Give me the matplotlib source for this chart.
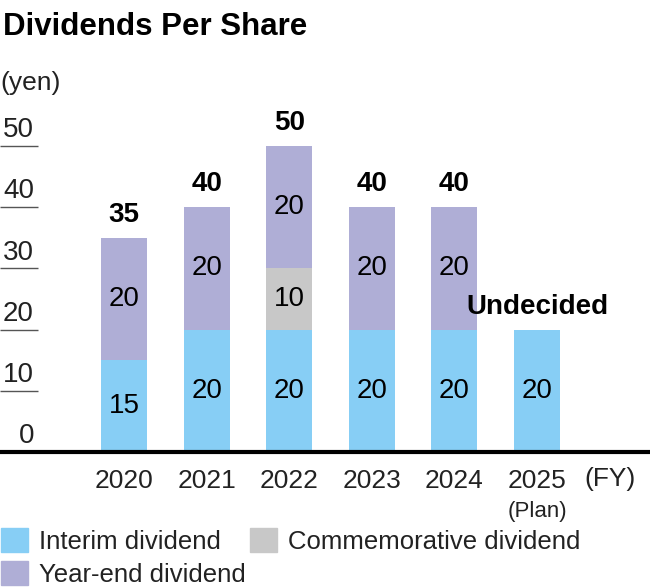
import numpy as np
import matplotlib
matplotlib.use("Agg")
import matplotlib.pyplot as plt
from matplotlib.patches import Patch

plt.rcParams['font.family'] = ['Liberation Sans', 'DejaVu Sans']

years = ["2020", "2021", "2022", "2023", "2024", "2025"]
interim = [15, 20, 20, 20, 20, 20]
commemorative = [0, 0, 10, 0, 0, 0]
year_end = [20, 20, 20, 20, 20, 0]
totals = ["35", "40", "50", "40", "40", "Undecided"]
yticks = [0, 10, 20, 30, 40, 50]

c_interim = "#87cef5"
c_comm = "#c8c8c8"
c_year = "#afaed6"

W, H = 650, 588
fig = plt.figure(figsize=(W / 100, H / 100), dpi=100)
# axes spans full width, y: 0 at 452px, 50 at 146px (from top)
ax = fig.add_axes([0, (H - 452) / H, 1, (452 - 146) / H])

x = np.arange(len(years))
step = 82.6
x0 = -124 / step
x1 = (W - 124) / step
ax.set_xlim(x0, x1)
ax.set_ylim(0, 50)

bw = 46 / step
interim = np.array(interim)
commemorative = np.array(commemorative)
year_end = np.array(year_end)
ax.bar(x, interim, width=bw, color=c_interim, zorder=2)
ax.bar(x, commemorative, width=bw, bottom=interim, color=c_comm, zorder=2)
ax.bar(x, year_end, width=bw, bottom=interim + commemorative, color=c_year, zorder=2)

# segment labels
for i in range(len(years)):
    segs = [(interim[i], 0), (commemorative[i], interim[i]),
            (year_end[i], interim[i] + commemorative[i])]
    for v, b in segs:
        if v > 0:
            ax.text(x[i], b + v / 2, str(v), ha='center', va='center',
                    fontsize=20, color='black', zorder=3)
    top = interim[i] + commemorative[i] + year_end[i]
    ax.text(x[i], top + 1.6, totals[i], ha='center', va='bottom',
            fontsize=20, fontweight='bold', color='black', clip_on=False)

# y tick labels with short underlines
lx = (34 - 124) / step
ax.hlines(yticks[1:], x0, (38 - 124) / step, color='#555555', lw=1, clip_on=False)
for t in yticks:
    ax.text(lx, t + 0.45, str(t), ha='right', va='bottom', fontsize=20,
            color='#222222', clip_on=False)

for s in ['top', 'left', 'right']:
    ax.spines[s].set_visible(False)
ax.spines['bottom'].set_linewidth(3)
ax.spines['bottom'].set_color('black')
ax.set_yticks([])
ax.set_xticks(x)
ax.set_xticklabels(years, fontsize=19, color='#222222')
ax.tick_params(axis='x', length=0, pad=12)

ax.text((610 - 124) / step, -4.4, "(FY)", ha='center', va='center',
        fontsize=19, color='#222222', clip_on=False)
ax.text(x[5], -9.7, "(Plan)", ha='center', va='center', fontsize=16,
        color='#222222', clip_on=False)

fig.text(3 / W, 1 - 27 / H, "Dividends Per Share", ha='left', va='center',
         fontsize=22.5, fontweight='bold')
fig.text(0, 1 - 83 / H, "(yen)", ha='left', va='center', fontsize=19,
         color='#222222')

handles = [Patch(color=c_interim, label="Interim dividend"),
           Patch(color=c_year, label="Year-end dividend"),
           Patch(color=c_comm, label="Commemorative dividend")]
fig.legend(handles=handles, ncol=2, loc='lower left', bbox_to_anchor=(0, 0),
           frameon=False, fontsize=18.5, handlelength=1.05, handleheight=1.05,
           handletextpad=0.4, columnspacing=0.2, labelspacing=0.28,
           borderaxespad=0, borderpad=0.05, labelcolor='#222222')

fig.savefig("out.png", dpi=100)
